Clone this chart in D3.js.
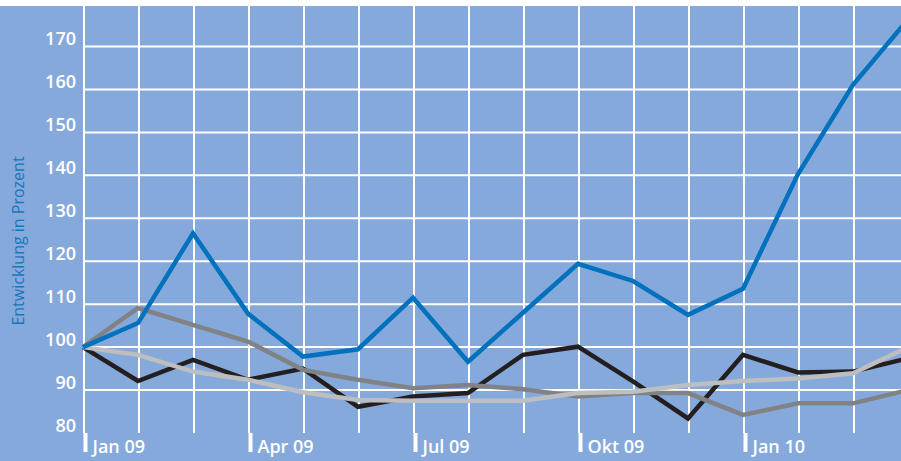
<!DOCTYPE html>
<html>
<head>
<meta charset="utf-8">
<script src="https://cdn.jsdelivr.net/npm/d3@7"></script>
<style>
  body { margin: 0; background: #fff; }
  svg { display: block; font-family: "Open Sans", sans-serif; }
</style>
</head>
<body>
<svg width="901" height="461"></svg>
<script>
// monthly values, index 100 = Jan 09 (last month runs off the right edge)
var months = ["Jan 09", "Feb 09", "Mär 09", "Apr 09", "Mai 09", "Jun 09", "Jul 09", "Aug 09",
              "Sep 09", "Okt 09", "Nov 09", "Dez 09", "Jan 10", "Feb 10", "Mär 10", "Apr 10"];
var quarterLabels = ["Jan 09", "Apr 09", "Jul 09", "Okt 09", "Jan 10"];
var yTicks = [80, 90, 100, 110, 120, 130, 140, 150, 160, 170];

var blueSeries  = [100, 105.6, 126.5, 107.8, 97.8, 99.5, 111.5, 96.6, 108, 119.4, 115.4, 107.5, 113.6, 140.3, 161.1, 176.3];
var blackSeries = [100, 92.1, 97, 92.4, 95, 86.1, 88.5, 89.3, 98.2, 100.1, 92, 83.4, 98.2, 94.1, 94.3, 97.4];
var darkSeries  = [100, 109.1, 105.2, 101.3, 94.7, 92.4, 90.4, 91.2, 90.2, 88.5, 89.3, 89.3, 84.2, 86.9, 86.9, 90];
var lightSeries = [100, 98.2, 94.3, 92.4, 89.5, 87.7, 87.5, 87.5, 87.5, 89.3, 89.6, 91.2, 92.1, 92.7, 93.9, 100];

var svg = d3.select("svg");
var svgDims = {width: +svg.attr("width"), height: +svg.attr("height")};
var plot = {left: 83, top: 6, bottom: 433};

var x = d3.scalePoint().domain(months).range([83, 908]);
var y = d3.scaleLinear().domain([80, 170]).range([433, 46.5]);

// background
svg.append("rect")
  .attr("x", 0).attr("y", plot.top)
  .attr("width", svgDims.width).attr("height", svgDims.height - plot.top)
  .attr("fill", "#86a9dc");

// grid
var grid = svg.append("g").attr("stroke", "#fff").attr("stroke-width", 2);
grid.selectAll(".v").data(months.slice(0, 15)).enter().append("line")
  .attr("x1", function(d) { return x(d) + 1; })
  .attr("x2", function(d) { return x(d) + 1; })
  .attr("y1", plot.top).attr("y2", plot.bottom);
grid.selectAll(".h").data(yTicks.slice(1)).enter().append("line")
  .attr("x1", plot.left).attr("x2", svgDims.width)
  .attr("y1", function(d) { return y(d); })
  .attr("y2", function(d) { return y(d); });

// y axis labels
var yAxis = svg.append("g")
  .attr("transform", "translate(" + plot.left + ",0)")
  .call(d3.axisLeft(y).tickValues(yTicks).tickSize(0).tickPadding(7));
yAxis.select(".domain").remove();
yAxis.selectAll("text")
  .attr("dy", "-2px")
  .attr("fill", "#fff")
  .style("font-size", "18px")
  .style("font-weight", "600")
  .style("font-family", "'Open Sans', sans-serif");

// x axis: thick quarter ticks with labels
var xAxis = svg.append("g")
  .attr("transform", "translate(0," + plot.bottom + ")")
  .call(d3.axisBottom(x).tickValues(quarterLabels).tickSize(19));
xAxis.select(".domain").remove();
xAxis.selectAll("line")
  .attr("stroke", "#fff")
  .attr("stroke-width", 4)
  .attr("transform", "translate(2,0)");
xAxis.selectAll("text")
  .attr("x", 9).attr("y", 20).attr("dy", null)
  .attr("text-anchor", "start")
  .attr("fill", "#fff")
  .style("font-size", "18px")
  .style("font-weight", "600")
  .style("font-family", "'Open Sans', sans-serif");

// axis title
svg.append("text")
  .attr("transform", "translate(24,241) rotate(-90)")
  .attr("text-anchor", "middle")
  .attr("fill", "#1b75bc")
  .style("font-size", "16px")
  .text("Entwicklung in Prozent");

// lines
var line = d3.line()
  .x(function(d, i) { return x(months[i]); })
  .y(function(d) { return y(d); });

var series = [
  {values: blackSeries, color: "#231f20"},
  {values: darkSeries, color: "#808285"},
  {values: lightSeries, color: "#bcbec0"},
  {values: blueSeries, color: "#0071bc"}
];

svg.selectAll(".series").data(series).enter().append("path")
  .attr("class", "series")
  .attr("d", function(d) { return line(d.values); })
  .attr("fill", "none")
  .attr("stroke", function(d) { return d.color; })
  .attr("stroke-width", 4.5)
  .attr("stroke-linejoin", "miter");
</script>
</body>
</html>
